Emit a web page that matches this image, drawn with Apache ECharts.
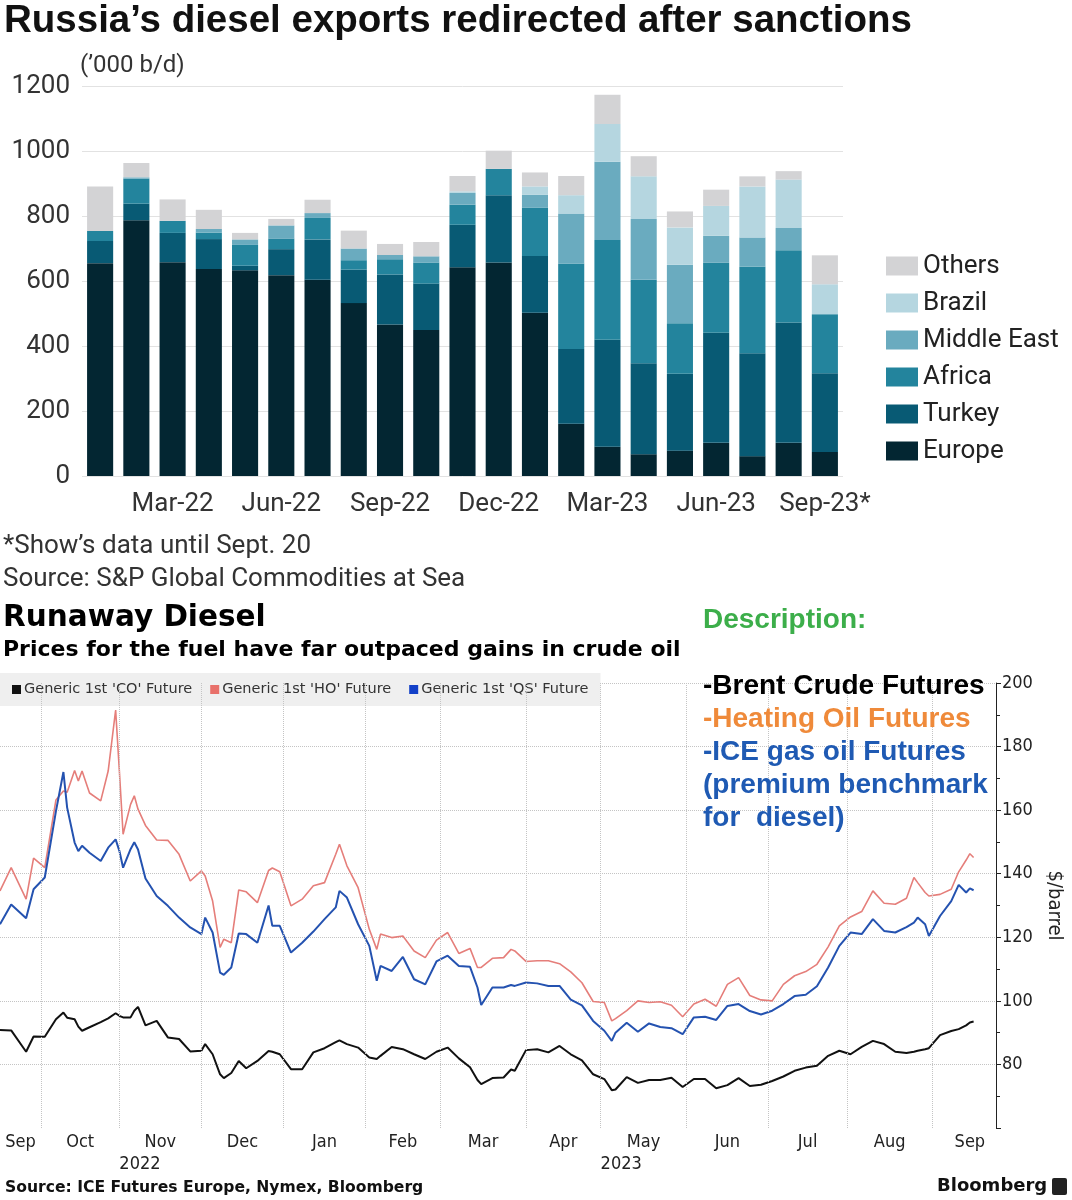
<!DOCTYPE html>
<html><head><meta charset="utf-8">
<script src="https://cdn.jsdelivr.net/npm/echarts@6/dist/echarts.min.js"></script>
<style>html,body{margin:0;padding:0;background:#fff}#c{width:1072px;height:1200px}</style>
</head><body><div id="c"></div>
<script>
// ---------- Top chart data ('000 b/d) ----------
const months = ['Jan-22','Feb-22','Mar-22','Apr-22','May-22','Jun-22','Jul-22','Aug-22','Sep-22','Oct-22','Nov-22','Dec-22','Jan-23','Feb-23','Mar-23','Apr-23','May-23','Jun-23','Jul-23','Aug-23','Sep-23*'];
const europe     = [655,787,658,637,633,618,604,532,466,449,642,657,502,161, 90, 67, 78,102, 61,102, 74];
const turkey     = [ 68, 51, 90, 92, 14, 80,124,103,154,143,131,207,175,230,329,280,237,339,317,370,242];
const africa     = [ 31, 77, 37, 20, 64, 33, 66, 29, 47, 65, 62, 81,149,263,307,257,155,215,267,223,182];
const middleEast = [  0,  4,  0, 11, 17, 40, 15, 36, 13, 19, 36,  0, 39,154,241,187,180, 83, 89, 68,  0];
const brazil     = [  0,  0,  0,  0,  0,  0,  0,  0,  0,  0,  5,  0, 26, 56,116,131,115, 92,157,149, 92];
const others     = [137, 44, 66, 59, 20, 20, 41, 55, 34, 44, 47, 56, 43, 59, 90, 62, 49, 50, 31, 26, 89];
const regionLegend = ['Others','Brazil','Middle East','Africa','Turkey','Europe'];

// ---------- Bottom chart data ($/barrel) ----------
const priceDates = ['2022-09-16','2022-09-21','2022-09-27','2022-09-29','2022-10-04','2022-10-07','2022-10-11','2022-10-12','2022-10-14','2022-10-17','2022-10-18','2022-10-20','2022-10-25','2022-10-27','2022-10-31','2022-11-01','2022-11-02','2022-11-04','2022-11-07','2022-11-08','2022-11-10','2022-11-15','2022-11-18','2022-11-23','2022-11-28','2022-12-01','2022-12-02','2022-12-06','2022-12-08','2022-12-09','2022-12-13','2022-12-15','2022-12-19','2022-12-22','2022-12-27','2022-12-28','2022-12-30','2023-01-04','2023-01-09','2023-01-12','2023-01-17','2023-01-20','2023-01-23','2023-01-25','2023-01-30','2023-02-02','2023-02-06','2023-02-07','2023-02-10','2023-02-15','2023-02-20','2023-02-23','2023-02-28','2023-03-03','2023-03-08','2023-03-13','2023-03-15','2023-03-16','2023-03-21','2023-03-24','2023-03-28','2023-03-29','2023-04-03','2023-04-06','2023-04-11','2023-04-14','2023-04-19','2023-04-24','2023-04-27','2023-05-02','2023-05-04','2023-05-05','2023-05-10','2023-05-15','2023-05-18','2023-05-23','2023-05-26','2023-05-31','2023-06-05','2023-06-08','2023-06-13','2023-06-16','2023-06-21','2023-06-26','2023-06-29','2023-07-04','2023-07-07','2023-07-12','2023-07-17','2023-07-20','2023-07-25','2023-07-28','2023-08-02','2023-08-07','2023-08-10','2023-08-15','2023-08-18','2023-08-23','2023-08-25','2023-08-28','2023-08-30','2023-08-31','2023-09-05','2023-09-08','2023-09-12','2023-09-14','2023-09-15','2023-09-18'];
const gasOilQS = [124.1,130.3,126.0,135.1,138.8,159.7,172.0,160.8,149.8,147.1,148.8,146.6,144.0,148.2,150.8,147.2,141.9,147.7,149.9,147.6,138.5,133.0,129.9,126.2,123.1,121.0,126.2,121.5,108.9,108.2,110.5,121.2,121.0,118.3,130.0,123.6,123.6,115.2,118.3,121.8,125.7,129.4,134.6,132.5,124.1,117.3,106.3,111.0,109.4,113.8,106.8,105.2,112.4,114.2,111.0,110.7,104.2,98.7,104.2,104.2,105.0,104.7,105.8,105.5,104.7,104.7,100.4,98.6,93.7,90.6,87.4,90.0,93.1,90.3,92.9,91.8,91.4,89.5,94.8,95.0,94.0,98.4,99.0,96.8,95.7,96.9,99.0,101.5,101.9,104.6,110.5,117.3,121.5,121.0,125.7,122.0,121.5,123.2,124.6,126.2,124.1,120.4,126.7,131.4,136.5,134.1,135.4,134.8];
const heatingOilHO = [134.6,141.9,132.0,144.9,141.9,163.2,166.0,165.6,172.5,169.2,172.3,165.4,162.9,172.3,191.5,172.3,152.4,161.8,164.5,160.3,155.2,150.6,150.5,146.1,137.7,140.9,139.3,131.4,116.8,119.4,118.3,134.9,134.3,130.9,141.0,141.8,140.6,129.9,132.0,136.2,137.2,146.1,149.3,142.5,135.6,122.5,116.2,121.0,119.9,120.4,115.7,113.6,119.1,121.5,114.9,116.5,110.5,110.5,113.4,113.6,116.2,115.7,112.4,112.6,112.6,111.7,109.1,105.7,99.8,99.5,93.7,94.4,96.9,100.0,99.5,99.7,98.6,95.0,99.0,100.5,98.3,105.2,107.3,101.7,100.3,100.0,105.2,107.9,109.2,111.5,117.0,123.6,126.4,128.1,134.6,130.7,130.4,132.3,138.8,137.2,134.1,133.0,133.5,135.1,140.6,144.3,146.3,145.1];
const brentCO = [90.8,90.7,84.0,88.8,88.7,94.2,96.3,94.7,94.2,91.9,90.6,91.7,93.3,94.5,96.1,95.3,94.8,94.8,96.9,98.1,92.3,93.7,88.5,88.0,84.1,84.3,86.4,83.2,76.9,75.7,77.3,81.1,78.8,81.1,84.2,84.0,83.2,78.5,78.5,83.8,85.1,87.0,87.6,86.4,85.3,82.2,81.7,82.7,85.5,84.8,83.2,81.7,84.0,85.3,81.9,79.1,75.1,73.8,75.7,75.9,78.4,78.0,84.5,84.8,83.8,85.8,83.2,81.3,76.9,75.4,71.9,72.1,76.0,74.2,75.1,75.1,75.8,72.9,75.4,75.4,72.5,73.5,75.7,73.2,73.6,74.8,76.2,78.0,79.0,79.6,82.7,84.3,83.2,85.5,87.4,86.4,84.0,83.6,84.0,84.3,84.8,85.1,89.2,90.5,91.1,92.3,93.2,93.5];
const monthNames = ['Sep','Oct','Nov','Dec','Jan','Feb','Mar','Apr','May','Jun','Jul','Aug','Sep'];
const monthStarts = ['2022-10-03','2022-11-01','2022-12-01','2023-01-02','2023-02-01','2023-03-01','2023-04-03','2023-05-01','2023-06-01','2023-07-03','2023-08-01','2023-09-01'];
const yearLabels = [['2022','2022-11-01'],['2023','2023-05-01']];
const yTicks = [60,80,100,120,140,160,180,200];

// ---------- helpers (trading-day scale like the Bloomberg axis) ----------
const START = '2022-09-16';
const X_MAX = 267;
function tradingDay(s){
  const end = new Date(s+'T00:00:00Z'); const t = new Date(START+'T00:00:00Z'); let n = 0;
  while (t < end){ t.setUTCDate(t.getUTCDate()+1); const w = t.getUTCDay(); if (w!==0 && w!==6) n++; }
  return n;
}
const xs = priceDates.map(tradingDay);
const pair = vals => vals.map((v,i)=>[xs[i], v]);
const startIdx = monthStarts.map(tradingDay);
const bounds = [0].concat(startIdx).concat([X_MAX+3]);
const labelPos = [], labelMap = {};
for (let k=0;k<monthNames.length;k++){ const p=Math.min((bounds[k]+bounds[k+1])/2, X_MAX-7); labelPos.push(p); labelMap[p.toFixed(3)] = monthNames[k]; }
const yearPos = yearLabels.map(y=>tradingDay(y[1])); const yearMap = {};
yearLabels.forEach((y,i)=>{ yearMap[yearPos[i].toFixed(3)] = y[0]; });

const TOPF = 'Roboto';
const BBF = '"DejaVu Sans Condensed", "DejaVu Sans"';
const ARB = '"Liberation Sans", Arial';

function txt(x,y,text,font,fill){ return {type:'text', x:x, y:y, z:100, silent:true, style:{text:text, font:font, fill:fill, verticalAlign:'middle', align:'left'}}; }

const regions = [
  ['Europe', europe, '#032632'],
  ['Turkey', turkey, '#085a74'],
  ['Africa', africa, '#23849d'],
  ['Middle East', middleEast, '#6aabbf'],
  ['Brazil', brazil, '#b5d6e0'],
  ['Others', others, '#d3d3d5']
];

const chart = echarts.init(document.getElementById('c'));
const option = {
  animation:false,
  backgroundColor:'#fff',
  grid:[
    {left:82, right:229, top:86, bottom:724},
    {left:0, right:69, top:683, bottom:72}
  ],
  legend:[
    {data:regionLegend, orient:'vertical', left:881, top:248, icon:'rect', itemWidth:32, itemHeight:19, itemGap:11,
     selectedMode:false, textStyle:{fontSize:26, fontFamily:TOPF, color:'#222', lineHeight:26, padding:[0,0,0,0]}},
    {data:["Generic 1st 'CO' Future","Generic 1st 'HO' Future","Generic 1st 'QS' Future"], left:0, top:673, icon:'rect',
     itemWidth:9, itemHeight:9, itemGap:18, padding:[9,12,9,12], backgroundColor:'#efefef', selectedMode:false,
     textStyle:{fontSize:14.5, fontFamily:'"DejaVu Sans"', color:'#333', padding:[0,0,0,-2]}}
  ],
  xAxis:[
    {type:'category', gridIndex:0, data:months, axisLine:{show:false}, axisTick:{show:false},
     axisLabel:{interval:(i)=>i%3===2, fontSize:26, fontFamily:TOPF, color:'#333', margin:15}},
    {type:'value', gridIndex:1, position:'bottom', min:0, max:X_MAX, axisLine:{show:false, onZero:false}, axisTick:{show:false}, splitLine:{show:false},
     axisLabel:{customValues:labelPos, formatter:(v)=>labelMap[Number(v).toFixed(3)]||'', fontSize:18, fontFamily:BBF, color:'#222', margin:5}},
    {type:'value', gridIndex:1, position:'bottom', min:0, max:X_MAX, offset:22, axisLine:{show:false, onZero:false}, axisTick:{show:false}, splitLine:{show:false},
     axisLabel:{customValues:yearPos, formatter:(v)=>yearMap[Number(v).toFixed(3)]||'', align:'left', fontSize:18, fontFamily:BBF, color:'#222', margin:5}}
  ],
  yAxis:[
    {type:'value', gridIndex:0, min:0, max:1200, interval:200, axisLine:{show:false}, axisTick:{show:false},
     splitLine:{lineStyle:{color:'#e2e2e2', width:1}},
     axisLabel:{fontSize:26, fontFamily:TOPF, color:'#333', margin:12, formatter:(v)=>String(v)}},
    {type:'value', gridIndex:1, position:'right', min:yTicks[0], max:yTicks[yTicks.length-1], interval:20,
     axisLine:{show:true, onZero:false, lineStyle:{color:'#222', width:1}},
     axisTick:{show:true, length:5, lineStyle:{color:'#222'}},
     minorTick:{show:true, splitNumber:2, length:4, lineStyle:{color:'#222'}},
     splitLine:{show:true, showMinLine:false, lineStyle:{type:'dotted', color:'#c4c4c4', width:1}},
     axisLabel:{showMinLabel:false, fontSize:18, fontFamily:BBF, color:'#222', margin:6},
     name:'$/barrel', nameLocation:'middle', nameRotate:-90, nameGap:48,
     nameTextStyle:{fontSize:20, fontFamily:BBF, color:'#222'}}
  ],
  series: regions.map(r=>({
    name:r[0], type:'bar', stack:'exports', xAxisIndex:0, yAxisIndex:0, data:r[1],
    barCategoryGap:'28%', itemStyle:{color:r[2]}, emphasis:{disabled:true}
  })).concat([
    {name:'monthGrid', type:'line', xAxisIndex:1, yAxisIndex:1, data:[], silent:true,
     markLine:{silent:true, symbol:['none','none'], label:{show:false}, animation:false,
       lineStyle:{type:'dotted', color:'#c4c4c4', width:1}, emphasis:{disabled:true},
       data:startIdx.map(v=>({xAxis:v}))}},
    {name:"Generic 1st 'CO' Future", type:'line', xAxisIndex:1, yAxisIndex:1, data:pair(brentCO), showSymbol:false, symbol:'none',
     itemStyle:{color:'#111'}, lineStyle:{color:'#111', width:2}},
    {name:"Generic 1st 'HO' Future", type:'line', xAxisIndex:1, yAxisIndex:1, data:pair(heatingOilHO), showSymbol:false, symbol:'none',
     itemStyle:{color:'#e8706a'}, lineStyle:{color:'#e57e7a', width:1.6}},
    {name:"Generic 1st 'QS' Future", type:'line', xAxisIndex:1, yAxisIndex:1, data:pair(gasOilQS), showSymbol:false, symbol:'none',
     itemStyle:{color:'#1240c8'}, lineStyle:{color:'#2452b0', width:2}}
  ]),
  graphic:[
    txt(4, 21, 'Russia\u2019s diesel exports redirected after sanctions', 'bold 38.5px '+ARB, '#111'),
    txt(80, 66, '(\u2019000 b/d)', '24px '+TOPF, '#333'),
    txt(3, 546, '*Show\u2019s data until Sept. 20', '26px '+TOPF, '#333'),
    txt(3, 579, 'Source: S&P Global Commodities at Sea', '26px '+TOPF, '#333'),
    txt(3, 618, 'Runaway Diesel', 'bold 29.5px "DejaVu Sans"', '#000'),
    txt(3, 650, 'Prices for the fuel have far outpaced gains in crude oil', 'bold 22px "DejaVu Sans"', '#000'),
    txt(703, 620, 'Description:', 'bold 28px '+ARB, '#3cae4a'),
    txt(703, 686, '-Brent Crude Futures', 'bold 28px '+ARB, '#000'),
    txt(703, 719, '-Heating Oil Futures', 'bold 28px '+ARB, '#ef8a3a'),
    txt(703, 752, '-ICE gas oil Futures', 'bold 28px '+ARB, '#1f5ab3'),
    txt(703, 785, '(premium benchmark', 'bold 28px '+ARB, '#1f5ab3'),
    txt(703, 818, 'for  diesel)', 'bold 28px '+ARB, '#1f5ab3'),
    txt(5, 1188, 'Source: ICE Futures Europe, Nymex, Bloomberg', 'bold 15.6px "DejaVu Sans"', '#111'),
    txt(937, 1186, 'Bloomberg', 'bold 18px "DejaVu Sans"', '#111'),
    {type:'rect', x:1052, y:1178, z:100, silent:true, shape:{width:15, height:17, r:2}, style:{fill:'#222'}}
  ]
};
chart.setOption(option);
</script></body></html>
